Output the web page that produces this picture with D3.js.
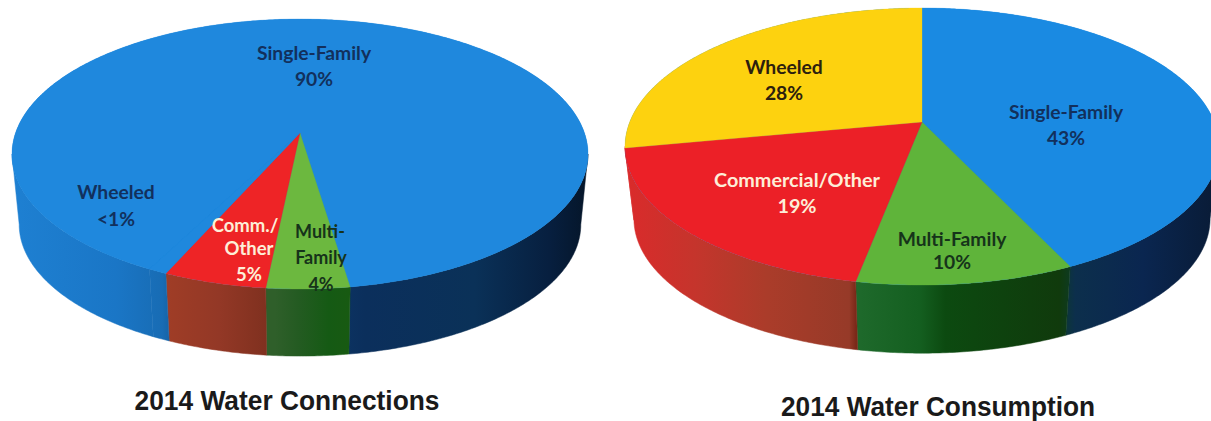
<!DOCTYPE html>
<html>
<head>
<meta charset="utf-8">
<script src="https://cdn.jsdelivr.net/npm/d3@7/dist/d3.min.js"></script>
<style>
html, body { margin: 0; padding: 0; background: #fff; overflow: hidden; }
svg { display: block; }
</style>
</head>
<body>
<svg id="chart" width="1211" height="421"></svg>
<script>
// 2014 shares, in percent. Wheeled connections are stated only as "<1%".
const connectionCategories = ["Single-Family", "Multi-Family", "Commercial/Other", "Wheeled"];
const connectionValues = [90, 4, 5, 0.9];
const connectionLabels = ["90%", "4%", "5%", "<1%"];

const consumptionCategories = ["Single-Family", "Multi-Family", "Commercial/Other", "Wheeled"];
const consumptionValues = [43, 10, 19, 28];
const consumptionLabels = ["43%", "10%", "19%", "28%"];

const svg = d3.select("#chart");
const defs = svg.append("defs");
const TAU = Math.PI * 2;

// Wall shading runs left to right across each pie, so the near side reads as a lit cylinder.
const shade = (id, x0, x1, stops) => {
  const g = defs.append("linearGradient").attr("id", id)
    .attr("gradientUnits", "userSpaceOnUse")
    .attr("x1", x0).attr("x2", x1).attr("y1", 0).attr("y2", 0);
  stops.forEach(([t, c]) => g.append("stop").attr("offset", t).attr("stop-color", c));
  return `url(#${id})`;
};

function drawPie(cfg) {
  const g = svg.append("g");
  const { cx, cy, rx, ry, k, depth, taper } = cfg;

  // Perspective disc: the hub sits above the middle of the rim ellipse.
  const project = (theta, r, s, dy) => {
    const x = Math.sin(theta) * r, y = -Math.cos(theta) * r, w = 1 + k * y;
    return [cx + rx * x / w * s, cy + ry * y / w * s + dy];
  };
  const rim = (a0, a1, s, dy) => {
    const n = Math.max(2, Math.ceil((a1 - a0) / 0.01));
    return d3.range(n + 1).map(i => project(a0 + (a1 - a0) * i / n, 1, s, dy));
  };
  const line = d3.line();

  const slices = d3.pie().sort(null)
    .startAngle(cfg.start).endAngle(cfg.start + TAU)(cfg.values);

  // Near-side walls first, between the two silhouette points of the rim;
  // the top faces are painted over them.
  const tangent = Math.acos(-k);
  const near0 = Math.PI - tangent, near1 = Math.PI + tangent;
  slices.forEach((d, i) => {
    [-TAU, 0, TAU].forEach(shift => {
      const a0 = Math.max(d.startAngle + shift, near0);
      const a1 = Math.min(d.endAngle + shift, near1);
      if (a1 <= a0) return;
      const pts = rim(a0, a1, 1, 0).concat(rim(a0, a1, taper, depth).reverse());
      g.append("path").attr("d", line(pts) + "Z")
        .attr("fill", cfg.walls[i]).attr("stroke", cfg.walls[i]).attr("stroke-width", 0.5);
    });
  });

  // Base disc keeps same-coloured neighbours free of seams.
  g.append("path").attr("d", line(rim(0, TAU, 1, 0)) + "Z").attr("fill", cfg.tops[0]);
  slices.forEach((d, i) => {
    const pts = [[cx, cy]].concat(rim(d.startAngle, d.endAngle, 1, 0));
    g.append("path").attr("d", line(pts) + "Z")
      .attr("fill", cfg.tops[i]).attr("stroke", cfg.tops[i]).attr("stroke-width", 0.3);
  });

  // Slice captions, one block of lines per category.
  cfg.captions.forEach(c => {
    const t = g.append("text")
      .attr("text-anchor", "middle")
      .attr("font-family", "Lato, 'Open Sans', sans-serif")
      .attr("font-weight", 700)
      .attr("font-size", c.size || 19.3)
      .attr("fill", c.color);
    c.lines.forEach(([s, x, y]) => t.append("tspan").attr("x", x).attr("y", y).text(s));
  });

  svg.append("text")
    .attr("x", cfg.title.x).attr("y", cfg.title.y)
    .attr("text-anchor", "middle")
    .attr("font-family", "'Liberation Sans', Arial, sans-serif")
    .attr("font-weight", 700)
    .attr("font-size", 28)
    .attr("textLength", cfg.title.width)
    .attr("lengthAdjust", "spacingAndGlyphs")
    .attr("fill", "#1a1a1a")
    .text(cfg.title.text);
}

const deg = d => d * Math.PI / 180;
const navyText = "#12305c", greenText = "#16331a", cream = "#fdeed8", brownText = "#2c200e";

const connBlueWall = shade("connBlue", 12, 590, [
  [0, "#1e80d2"], [0.18, "#1a76c6"], [0.26, "#186cb4"], [0.3, "#12508a"],
  [0.61, "#0b2f5c"], [0.8, "#0a3158"], [0.93, "#071f3f"], [1, "#051528"]]);

drawPie({
  values: connectionValues,
  cx: 300, cy: 133, rx: 284.5, ry: 131.7, k: -0.1556, depth: 71, taper: 0.975,
  start: deg(-152.9),
  tops: ["#1f88dd", "#6cb83f", "#ee2426", "#1f88dd"],
  walls: [
    connBlueWall,
    shade("connGreen", 275, 365, [[0, "#2f5f2a"], [0.25, "#245b22"], [0.6, "#155a14"], [1, "#1a5a10"]]),
    shade("connRed", 164, 275, [[0, "#a03d26"], [0.5, "#933826"], [1, "#7c2f1e"]]),
    connBlueWall
  ],
  captions: [
    { color: navyText, lines: [["Single-Family", 314, 60], ["90%", 314, 86]] },
    { color: navyText, lines: [["Wheeled", 116, 199], ["<1%", 116, 226]] },
    { color: cream, size: 18.5, lines: [["Comm./", 245, 232], ["Other", 249, 255], ["5%", 249, 281]] },
    { color: greenText, size: 18, lines: [["Multi-", 320, 238], ["Family", 321, 264], ["4%", 321, 291]] }
  ],
  title: { text: "2014 Water Connections", x: 287, y: 410, width: 305 }
});

const consRedWall = shade("consRed", 630, 856, [
  [0, "#d92b2b"], [0.3, "#c4352c"], [0.6, "#ab3c2a"], [0.97, "#963a28"], [1, "#7a2818"]]);

drawPie({
  values: consumptionValues,
  cx: 922, cy: 122, rx: 292.3, ry: 134.2, k: -0.177, depth: 73, taper: 0.97,
  start: 0,
  tops: ["#1a8ae2", "#5fb43a", "#ec2027", "#fdd20f"],
  walls: [
    shade("consBlue", 1060, 1211, [[0, "#0c3a2c"], [0.1, "#0c2f4c"], [0.55, "#0a2650"], [1, "#091c38"]]),
    shade("consGreen", 855, 1070, [[0, "#1f6a2c"], [0.3, "#145f20"], [0.42, "#0c4a10"], [0.95, "#103a0c"], [1, "#0e3a20"]]),
    consRedWall,
    consRedWall
  ],
  captions: [
    { color: brownText, lines: [["Wheeled", 784, 74], ["28%", 784, 100]] },
    { color: navyText, lines: [["Single-Family", 1066, 119], ["43%", 1066, 145]] },
    { color: cream, size: 19.8, lines: [["Commercial/Other", 797, 187], ["19%", 797, 213]] },
    { color: greenText, lines: [["Multi-Family", 952, 246], ["10%", 952, 269]] }
  ],
  title: { text: "2014 Water Consumption", x: 938, y: 416, width: 314 }
});
</script>
</body>
</html>
